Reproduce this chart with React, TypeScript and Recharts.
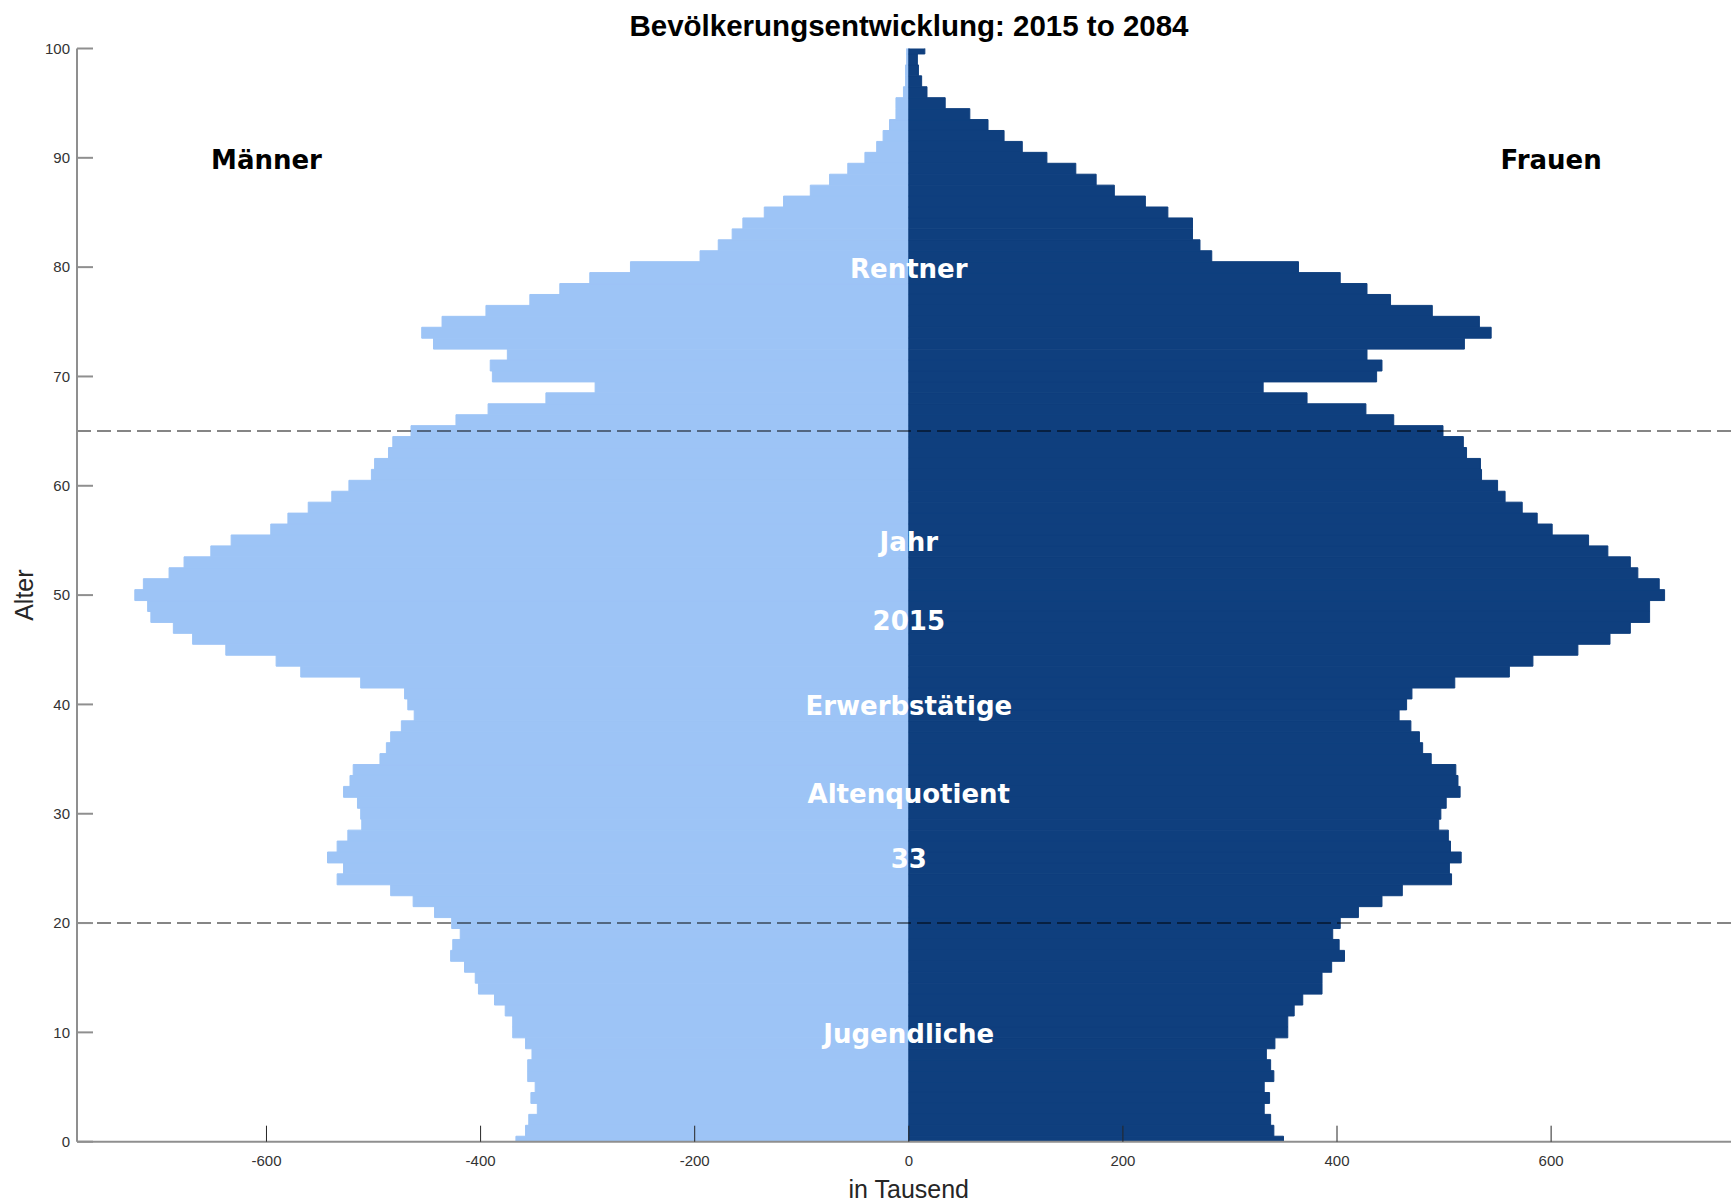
import { BarChart, Bar, XAxis, YAxis, ReferenceLine, ReferenceDot } from "recharts";

// Altersjahre 0..100
const AGES = [
  0, 1, 2, 3, 4, 5, 6, 7, 8, 9,
  10, 11, 12, 13, 14, 15, 16, 17, 18, 19,
  20, 21, 22, 23, 24, 25, 26, 27, 28, 29,
  30, 31, 32, 33, 34, 35, 36, 37, 38, 39,
  40, 41, 42, 43, 44, 45, 46, 47, 48, 49,
  50, 51, 52, 53, 54, 55, 56, 57, 58, 59,
  60, 61, 62, 63, 64, 65, 66, 67, 68, 69,
  70, 71, 72, 73, 74, 75, 76, 77, 78, 79,
  80, 81, 82, 83, 84, 85, 86, 87, 88, 89,
  90, 91, 92, 93, 94, 95, 96, 97, 98, 99,
  100,
];

// Männer in Tausend (drawn to the left)
const MEN = [
  367, 358, 355, 347, 353, 349, 356, 356, 352, 358,
  370, 370, 377, 387, 402, 405, 415, 428, 426, 419,
  427, 443, 463, 484, 534, 528, 543, 534, 524, 511,
  512, 515, 528, 522, 519, 494, 488, 484, 474, 462,
  468, 471, 512, 568, 591, 638, 669, 687, 708, 711,
  723, 715, 691, 677, 652, 633, 596, 580, 561, 539,
  523, 502, 499, 486, 482, 465, 423, 393, 339, 293,
  389, 391, 375, 444, 455, 436, 395, 354, 326, 298,
  260, 195, 178, 165, 155, 135, 117, 92, 74, 57,
  41, 30, 24, 18, 12, 12, 5, 3, 3, 2,
  2,
];

// Frauen in Tausend
const WOMEN = [
  350, 341, 338, 332, 337, 332, 341, 338, 334, 342,
  354, 354, 360, 368, 386, 386, 395, 407, 402, 396,
  403, 420, 442, 461, 507, 505, 516, 506, 504, 495,
  497, 502, 515, 513, 511, 488, 480, 477, 469, 458,
  465, 470, 510, 561, 583, 625, 655, 674, 692, 692,
  706, 701, 681, 674, 653, 635, 601, 587, 573, 557,
  550, 535, 534, 521, 518, 499, 453, 427, 372, 331,
  437, 442, 428, 519, 544, 533, 489, 450, 428, 403,
  364, 283, 272, 265, 265, 242, 221, 192, 175, 156,
  129, 106, 89, 74, 57, 34, 17, 12, 9, 8,
  15,
];

const X_TICKS = [-600, -400, -200, 0, 200, 400, 600];
const Y_TICKS = [0, 10, 20, 30, 40, 50, 60, 70, 80, 90, 100];

const LIGHT = "#9dc4f6";
const DARK = "#0f3f7e";
const BOX = "#8f8f8f";
const TICK_FONT = "'Liberation Sans', Arial, Helvetica, sans-serif";
const LABEL_FONT = "'DejaVu Sans', Verdana, sans-serif";

const data = AGES.map((age, i) => ({ age, men: -MEN[i], women: WOMEN[i] }));

function BottomTick(props: any) {
  const { x, y, payload } = props;
  return (
    <g>
      <line x1={x} x2={x} y1={y} y2={y - 16} stroke="#262626" strokeWidth={1} />
      <text x={x} y={y + 24} textAnchor="middle" fontSize={15} fontFamily={TICK_FONT} fill="#333">
        {payload.value}
      </text>
    </g>
  );
}

function TopTick(props: any) {
  const { x, y } = props;
  return <line x1={x} x2={x} y1={y} y2={y + 16} stroke="#262626" strokeWidth={1} />;
}

function LeftTick(props: any) {
  const { x, y, payload } = props;
  return (
    <g>
      <line x1={x} x2={x + 16} y1={y} y2={y} stroke={BOX} strokeWidth={2} />
      <text x={x - 7} y={y + 5.3} textAnchor="end" fontSize={15} fontFamily={TICK_FONT} fill="#333">
        {payload.value}
      </text>
    </g>
  );
}

function RightTick(props: any) {
  const { x, y } = props;
  return <line x1={x} x2={x - 16} y1={y} y2={y} stroke={BOX} strokeWidth={2} />;
}

function AlterLabel(props: any) {
  const vb = props.viewBox;
  const cx = vb.x + 24;
  const cy = vb.y + vb.height / 2;
  return (
    <text
      x={cx}
      y={cy + 9}
      transform={`rotate(-90 ${cx} ${cy})`}
      textAnchor="middle"
      fontSize={25}
      fontFamily={TICK_FONT}
      fill="#262626"
    >
      Alter
    </text>
  );
}

const whiteLabel = (value: string) => ({
  value,
  position: "center" as const,
  fill: "#ffffff",
  fontSize: 26,
  fontWeight: 700,
  fontFamily: LABEL_FONT,
});

const blackLabel = (value: string) => ({
  value,
  position: "center" as const,
  fill: "#000000",
  fontSize: 26,
  fontWeight: 700,
  fontFamily: LABEL_FONT,
});

export default function App() {
  return (
    <div
      style={{
        position: "absolute",
        left: 0,
        top: 0,
        width: 1731,
        height: 1204,
        overflow: "hidden",
        background: "#fff",
      }}
    >
      <div
        style={{
          position: "absolute",
          left: 77,
          top: 10,
          width: 1664,
          textAlign: "center",
          fontFamily: TICK_FONT,
          fontWeight: 700,
          fontSize: 29.5,
          lineHeight: "32px",
          color: "#000",
        }}
      >
        Bevölkerungsentwicklung: 2015 to 2084
      </div>
      <BarChart
        width={1760}
        height={1204}
        data={data}
        layout="vertical"
        stackOffset="sign"
        barCategoryGap={0}
        barGap={0}
        margin={{ top: 48.5, right: 19.4, bottom: 0, left: 0 }}
      >
        <XAxis
          type="number"
          dataKey="men"
          domain={[-777, 777]}
          ticks={X_TICKS}
          interval={0}
          height={62.3}
          tickSize={0}
          tickMargin={0}
          tickLine={false}
          axisLine={{ stroke: BOX, strokeWidth: 2 }}
          tick={BottomTick}
          label={{
            value: "in Tausend",
            position: "insideBottom",
            offset: 6,
            fill: "#262626",
            fontSize: 25,
            fontFamily: TICK_FONT,
          }}
        />
        <XAxis
          xAxisId="top"
          orientation="top"
          type="number"
          domain={[-777, 777]}
          ticks={X_TICKS}
          interval={0}
          height={0}
          tickSize={0}
          tickMargin={0}
          tickLine={false}
          axisLine={{ stroke: BOX, strokeWidth: 2 }}
          tick={TopTick}
        />
        <YAxis
          type="number"
          dataKey="age"
          domain={[0, 100]}
          reversed
          allowDataOverflow
          ticks={Y_TICKS}
          interval={0}
          width={77}
          tickSize={0}
          tickMargin={0}
          tickLine={false}
          axisLine={{ stroke: BOX, strokeWidth: 2 }}
          tick={LeftTick}
          label={{ content: AlterLabel }}
        />
        <YAxis
          yAxisId="right"
          orientation="right"
          type="number"
          domain={[0, 100]}
          reversed
          allowDataOverflow
          ticks={Y_TICKS}
          interval={0}
          width={0}
          tickSize={0}
          tickMargin={0}
          tickLine={false}
          axisLine={{ stroke: BOX, strokeWidth: 2 }}
          tick={RightTick}
        />
        <Bar
          dataKey="men"
          stackId="pop"
          fill={LIGHT}
          stroke={LIGHT}
          strokeWidth={1}
          barSize={10.925}
          isAnimationActive={false}
        />
        <Bar
          dataKey="women"
          stackId="pop"
          fill={DARK}
          stroke={DARK}
          strokeWidth={1}
          barSize={10.925}
          isAnimationActive={false}
        />
        <ReferenceLine y={65} stroke="#000" strokeOpacity={0.48} strokeWidth={2} strokeDasharray="14 6" />
        <ReferenceLine y={20} stroke="#000" strokeOpacity={0.48} strokeWidth={2} strokeDasharray="14 6" />
        <ReferenceDot x={-600} y={89.85} r={0} fill="none" stroke="none" label={blackLabel("Männer")} />
        <ReferenceDot x={600} y={89.85} r={0} fill="none" stroke="none" label={blackLabel("Frauen")} />
        <ReferenceDot x={0} y={79.85} r={0} fill="none" stroke="none" label={whiteLabel("Rentner")} />
        <ReferenceDot x={0} y={54.85} r={0} fill="none" stroke="none" label={whiteLabel("Jahr")} />
        <ReferenceDot x={0} y={47.65} r={0} fill="none" stroke="none" label={whiteLabel("2015")} />
        <ReferenceDot x={0} y={39.85} r={0} fill="none" stroke="none" label={whiteLabel("Erwerbstätige")} />
        <ReferenceDot x={0} y={31.85} r={0} fill="none" stroke="none" label={whiteLabel("Altenquotient")} />
        <ReferenceDot x={0} y={25.85} r={0} fill="none" stroke="none" label={whiteLabel("33")} />
        <ReferenceDot x={0} y={9.85} r={0} fill="none" stroke="none" label={whiteLabel("Jugendliche")} />
      </BarChart>
    </div>
  );
}
